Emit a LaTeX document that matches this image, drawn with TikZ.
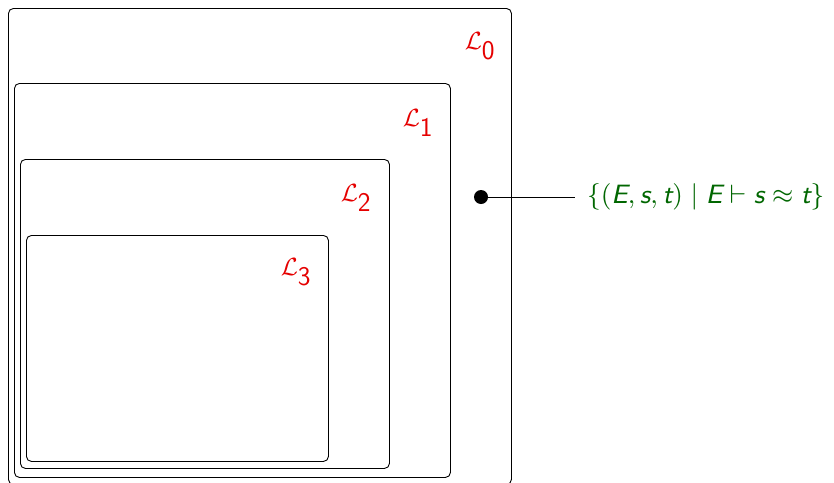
\documentclass[tikz,border=0pt]{standalone}
\usepackage{graphicx}
\newcommand\sfv[1]{\textsf{\itshape #1}}
\newcommand\sfd[1]{\textsf{#1}}
\begin{document}
\begin{tikzpicture}[x=1pt,y=-1pt,
  box/.style={draw=black, line width=0.9pt, rounded corners=5pt, anchor=north west, inner sep=0pt},
  lbl/.style={text=red!90!black, font=\fontsize{27}{32}\selectfont},
  settext/.style={text=green!40!black, font=\fontsize{9}{11}\selectfont, anchor=west, inner xsep=12pt, inner ysep=0pt}]
  \useasboundingbox (0,0) rectangle (834,482);
  % nested languages
  \node[box, minimum width=503pt, minimum height=476pt] (b0) at (8,8) {};
  \node[box, minimum width=436pt, minimum height=394pt] (b1) at (14,83) {};
  \node[box, minimum width=369pt, minimum height=309pt] (b2) at (20,159) {};
  \node[box, minimum width=302pt, minimum height=226pt] (b3) at (26,235) {};
  % labels
  \node[lbl] (l0) at (480,46) {$\mathcal{L}_{\sfd{0}}$};
  \node[lbl] (l1) at (418,123) {$\mathcal{L}_{\sfd{1}}$};
  \node[lbl] (l2) at (356,198) {$\mathcal{L}_{\sfd{2}}$};
  \node[lbl] (l3) at (296,272) {$\mathcal{L}_{\sfd{3}}$};
  % the equational theory
  \node[circle, fill=black, minimum size=14pt, inner sep=0pt] (dot) at (481,197) {};
  \node[settext] (set) at (575,197) {\scalebox{2.95}{$\{(\sfv{E},\sfv{s},\sfv{t})\mid \sfv{E}\vdash \sfv{s}\approx \sfv{t}\}$}};
  \draw[line width=0.8pt] (dot.center) -- (set.west);
\end{tikzpicture}
\end{document}
